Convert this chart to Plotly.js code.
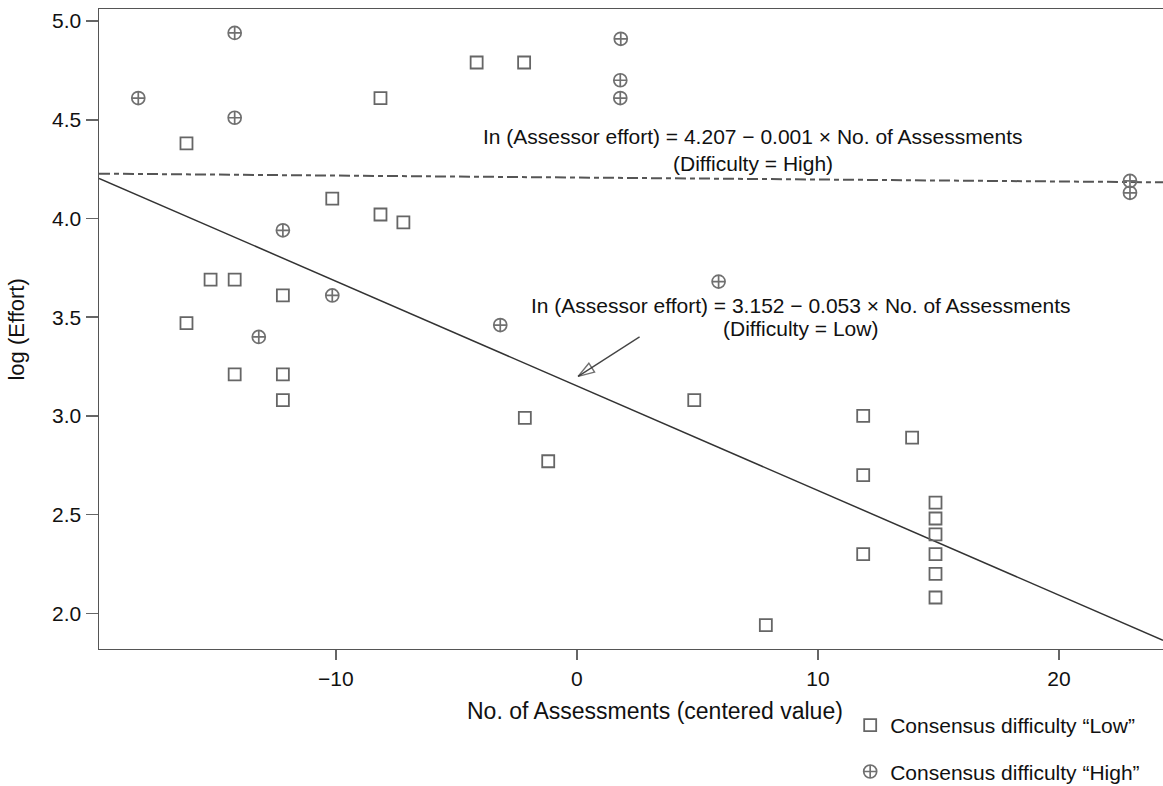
<!DOCTYPE html>
<html>
<head>
<meta charset="utf-8">
<script src="https://cdn.plot.ly/plotly-3.0.1.min.js"></script>
<style>html,body{margin:0;padding:0;background:#fff;}#chart{width:1163px;height:786px;}</style>
</head>
<body>
<div id="chart"></div>
<script>
// Consensus difficulty "Low" (squares)
const lowX = [-16.2, -4.16, -2.19, -8.15, -10.15, -8.15, -7.2, -15.2, -14.2, -12.2, -16.2, -14.2, -12.2, -12.2, 4.87, -2.16, -1.19, 7.84, 11.88, 13.91, 11.88, 11.88, 14.88, 14.88, 14.88, 14.88, 14.88, 14.88];
const lowY = [4.38, 4.79, 4.79, 4.61, 4.10, 4.02, 3.98, 3.69, 3.69, 3.61, 3.47, 3.21, 3.21, 3.08, 3.08, 2.99, 2.77, 1.94, 3.00, 2.89, 2.70, 2.30, 2.56, 2.48, 2.40, 2.30, 2.20, 2.08];
// Consensus difficulty "High" (crossed circles)
const highX = [-18.2, -14.2, -14.2, -12.2, -10.15, -13.2, -3.18, 5.88, 1.82, 1.8, 1.8, 22.95, 22.95];
const highY = [4.61, 4.94, 4.51, 3.94, 3.61, 3.40, 3.46, 3.68, 4.91, 4.70, 4.61, 4.19, 4.13];
// fitted lines (endpoints)
const lowFitX = [-19.83, 24.32];
const lowFitY = [4.203, 1.863];
const highFitX = [-19.83, 24.32];
const highFitY = [4.227, 4.183];
// arrow pointing at the low fit line
const arrowX = [2.6, 0.05];
const arrowY = [3.40, 3.20];
// tick labels
const xTicks = [-10, 0, 10, 20];
const xTickText = ['\u221210', '0', '10', '20'];
const yTicks = [2.0, 2.5, 3.0, 3.5, 4.0, 4.5, 5.0];
const yTickText = ['2.0', '2.5', '3.0', '3.5', '4.0', '4.5', '5.0'];
const legendLow = 'Consensus difficulty \u201cLow\u201d';
const legendHigh = 'Consensus difficulty \u201cHigh\u201d';
const eqHigh1 = 'In (Assessor effort) = 4.207 \u2212 0.001 \u00d7 No. of Assessments';
const eqHigh2 = '(Difficulty = High)';
const eqLow1 = 'In (Assessor effort) = 3.152 \u2212 0.053 \u00d7 No. of Assessments';
const eqLow2 = '(Difficulty = Low)';
const xTitle = 'No. of Assessments (centered value)';
const yTitle = 'log (Effort)';

const FONT = '"Liberation Sans", Arial, Helvetica, sans-serif';

const traces = [
  {x: highFitX, y: highFitY, mode: 'lines', showlegend: false,
   line: {color: '#555', width: 2, dash: '11px,4px,5px,4px'}},
  {x: lowFitX, y: lowFitY, mode: 'lines', showlegend: false,
   line: {color: '#333', width: 1.5}},
  {x: arrowX, y: arrowY, mode: 'lines+markers', showlegend: false,
   line: {color: '#444', width: 1.3},
   marker: {symbol: ['circle', 'arrow-open'], size: [0, 17], angleref: 'previous',
            color: '#333', line: {color: '#333', width: 1.4}}},
  {x: lowX, y: lowY, mode: 'markers', name: legendLow, legendgroup: 'a',
   marker: {symbol: 'square-open', size: 12, color: '#666', line: {color: '#666', width: 1.8}}},
  {x: highX, y: highY, mode: 'markers', name: legendHigh, legendgroup: 'b',
   marker: {symbol: 'circle-cross-open', size: 13, color: '#707070', line: {color: '#707070', width: 1.7}}}
];

const layout = {
  width: 1163, height: 786,
  margin: {l: 99, r: 0, t: 9, b: 0, autoexpand: false},
  paper_bgcolor: '#fff', plot_bgcolor: '#fff',
  font: {family: FONT, size: 21, color: '#111'},
  showlegend: true,
  legend: {x: 0.706, y: 0.1042, xanchor: 'left', yanchor: 'top',
           font: {family: FONT, size: 21, color: '#111'},
           bgcolor: 'rgba(0,0,0,0)', tracegroupgap: 16, traceorder: 'grouped'},
  xaxis: {range: [-19.83, 24.32], tickvals: xTicks, ticktext: xTickText,
          showgrid: false, zeroline: false, showline: true, mirror: true,
          linecolor: '#555', linewidth: 1.5, ticks: 'outside', ticklen: 10,
          tickcolor: '#666', tickwidth: 1.5, tickfont: {size: 21, color: '#111'}},
  yaxis: {domain: [0.17632, 1], range: [1.819, 5.061], tickvals: yTicks, ticktext: yTickText,
          showgrid: false, zeroline: false, showline: true,
          linecolor: '#555', linewidth: 1.5, ticks: 'outside', ticklen: 12,
          tickcolor: '#666', tickwidth: 1.5, tickfont: {size: 21, color: '#111'}},
  annotations: [
    {text: eqHigh1, xref: 'x', yref: 'y', x: 7.3, y: 4.415, showarrow: false,
     xanchor: 'center', yanchor: 'middle', font: {size: 21, color: '#111'}},
    {text: eqHigh2, xref: 'x', yref: 'y', x: 7.3, y: 4.28, showarrow: false,
     xanchor: 'center', yanchor: 'middle', font: {size: 21, color: '#111'}},
    {text: eqLow1, xref: 'x', yref: 'y', x: 9.27, y: 3.561, showarrow: false,
     xanchor: 'center', yanchor: 'middle', font: {size: 21, color: '#111'}},
    {text: eqLow2, xref: 'x', yref: 'y', x: 9.27, y: 3.441, showarrow: false,
     xanchor: 'center', yanchor: 'middle', font: {size: 21, color: '#111'}},
    {text: xTitle, xref: 'paper', yref: 'paper', x: 0.5226, y: 0.0965, showarrow: false,
     xanchor: 'center', yanchor: 'middle', font: {size: 23, color: '#111'}},
    {text: yTitle, xref: 'paper', yref: 'paper', x: -0.0775, y: 0.5869, showarrow: false,
     textangle: -90, xanchor: 'center', yanchor: 'middle', font: {size: 22, color: '#111'}}
  ]
};

Plotly.newPlot('chart', traces, layout, {staticPlot: true, displayModeBar: false});
</script>
</body>
</html>
